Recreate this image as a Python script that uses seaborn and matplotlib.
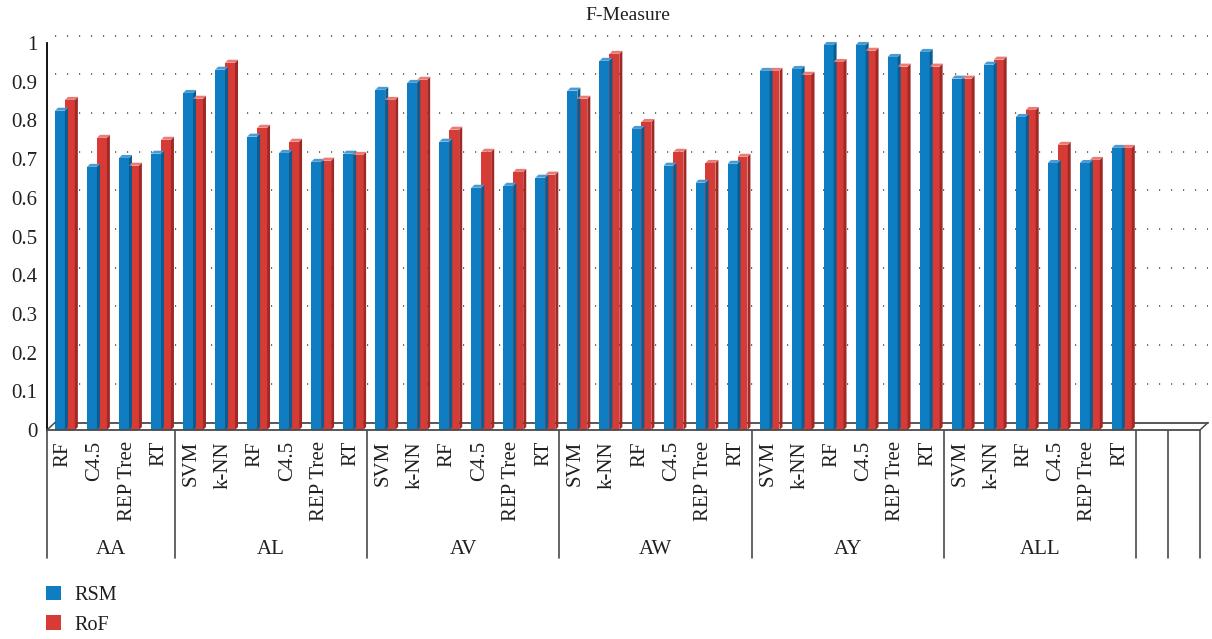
import numpy as np
import pandas as pd
import matplotlib
matplotlib.use("Agg")
import matplotlib.pyplot as plt
import seaborn as sns
from matplotlib.patches import Polygon, Patch

# ---------------- data ----------------
groups = ["AA", "AL", "AV", "AW", "AY", "ALL"]
group_methods = [
    ["RF", "C4.5", "REP Tree", "RT"],
    ["SVM", "k-NN", "RF", "C4.5", "REP Tree", "RT"],
    ["SVM", "k-NN", "RF", "C4.5", "REP Tree", "RT"],
    ["SVM", "k-NN", "RF", "C4.5", "REP Tree", "RT"],
    ["SVM", "k-NN", "RF", "C4.5", "REP Tree", "RT"],
    ["SVM", "k-NN", "RF", "C4.5", "REP Tree", "RT"],
]
rsm = [
    0.825, 0.680, 0.703, 0.714,
    0.871, 0.931, 0.758, 0.716, 0.693, 0.714,
    0.879, 0.897, 0.745, 0.626, 0.631, 0.652,
    0.877, 0.954, 0.778, 0.683, 0.639, 0.688,
    0.928, 0.933, 0.995, 0.995, 0.964, 0.977,
    0.908, 0.944, 0.809, 0.690, 0.690, 0.729,
]
rof = [
    0.853, 0.755, 0.683, 0.750,
    0.856, 0.949, 0.781, 0.745, 0.696, 0.711,
    0.853, 0.905, 0.776, 0.719, 0.667, 0.660,
    0.856, 0.972, 0.796, 0.719, 0.690, 0.706,
    0.928, 0.918, 0.951, 0.980, 0.939, 0.939,
    0.908, 0.957, 0.827, 0.737, 0.698, 0.729,
]
series = ["RSM", "RoF"]
n_blank = 2
yticks = [0, 0.1, 0.2, 0.3, 0.4, 0.5, 0.6, 0.7, 0.8, 0.9, 1.0]
ytick_labels = ["0", "0.1", "0.2", "0.3", "0.4", "0.5", "0.6", "0.7", "0.8", "0.9", "1"]

blue = "#0E7DC2"
red = "#D63B36"
blue_side, blue_top = "#0A5C91", "#4A9BD2"
red_side, red_top = "#A02825", "#E77C78"
txt = "#231F20"
line_c = "#4A4A4A"

# ---------------- table ----------------
keys, methods_flat, grp_flat = [], [], []
for g, ms in zip(groups, group_methods):
    for m in ms:
        keys.append(f"{g}|{m}")
        methods_flat.append(m)
        grp_flat.append(g)
blank_keys = [f"_blank{i}" for i in range(n_blank)]
order = keys + blank_keys
df = pd.DataFrame({
    "key": keys * 2,
    "model": ["RSM"] * len(keys) + ["RoF"] * len(keys),
    "value": rsm + rof,
})

# ---------------- figure ----------------
sns.set_theme(style="white")
plt.rcParams["font.family"] = ["Liberation Serif", "DejaVu Serif"]
W, H, DPI = 1212, 639, 100
fig = plt.figure(figsize=(W / DPI, H / DPI), dpi=DPI)
left, right, bottom, top = 47 / W, 1200 / W, 1 - 430 / H, 1 - 43 / H
ax = fig.add_axes([left, bottom, right - left, top - bottom])

sns.barplot(data=df, x="key", y="value", hue="model", order=order,
            hue_order=series, palette=[blue, red], width=0.62,
            saturation=1, linewidth=0, edgecolor="none", ax=ax, legend=False,
            zorder=3)

nslots = len(order)
ax.set_xlim(-0.5, nslots - 0.5)
ax.set_ylim(0, 1)

px_x = (right - left) * W / nslots   # pixels per slot
px_y = (top - bottom) * H            # pixels per unit value

# shift bars slightly right & add 3D faces
d3x, d3y = 3 / px_x, 3 / px_y
for cont, sc, tc in zip(ax.containers, [blue_side, red_side], [blue_top, red_top]):
    for bar in cont:
        bar.set_x(bar.get_x() + 0.06)
        x0, w, h = bar.get_x(), bar.get_width(), bar.get_height()
        if not np.isfinite(h) or h == 0:
            continue
        x1 = x0 + w
        ax.add_patch(Polygon([(x1, 0), (x1, h), (x1 + d3x, h + d3y), (x1 + d3x, d3y)],
                             closed=True, fc=sc, ec="none", zorder=3, clip_on=False))
        ax.add_patch(Polygon([(x0, h), (x1, h), (x1 + d3x, h + d3y), (x0 + d3x, h + d3y)],
                             closed=True, fc=tc, ec="none", zorder=3, clip_on=False))

# back-wall dotted gridlines and floor
bx, by = 8 / px_x, 7.5 / px_y
for v in yticks[1:]:
    ax.plot([-0.5 + bx, nslots - 0.5 + bx], [v + by, v + by], color="#555555",
            lw=1.2, linestyle=(0, (0.7, 6.5)), zorder=1, clip_on=False)
ax.plot([-0.5, nslots - 0.5], [0, 0], color=line_c, lw=1.3, zorder=4, clip_on=False)
ax.plot([-0.5 + bx, nslots - 0.5 + bx], [by, by], color=line_c, lw=1.3, zorder=1, clip_on=False)
ax.plot([-0.5, -0.5 + bx], [0, by], color=line_c, lw=1.1, zorder=4, clip_on=False)
ax.plot([nslots - 0.5, nslots - 0.5 + bx], [0, by], color=line_c, lw=1.1, zorder=4, clip_on=False)

# spines
for s in ["top", "right", "bottom"]:
    ax.spines[s].set_visible(False)
ax.spines["left"].set_color("black")
ax.spines["left"].set_linewidth(1.3)
ax.grid(False)

# y ticks
ax.set_yticks(yticks)
ax.set_yticklabels(ytick_labels)
ax.tick_params(axis="y", length=0, pad=7, labelsize=15, labelcolor=txt)

# x ticks: method names
ax.set_xticks(range(len(keys)))
ax.set_xticklabels(methods_flat, rotation=90, ha="center", va="top")
ax.tick_params(axis="x", length=0, pad=8, labelsize=15, labelcolor=txt)
ax.set_xlabel("")
ax.set_ylabel("")

# group separators and labels
trans = ax.get_xaxis_transform()
bounds = [-0.5]
for ms in group_methods:
    bounds.append(bounds[-1] + len(ms))
for i in range(n_blank):
    bounds.append(bounds[-1] + 1)
for b in bounds:
    ax.plot([b, b], [-0.003, -0.33], color=line_c, lw=1.2, transform=trans, clip_on=False)
for g, a, b in zip(groups, bounds[:-1], bounds[1:]):
    ax.text((a + b) / 2, -0.31, g, transform=trans, ha="center", va="center",
            fontsize=15, color=txt)

# title
fig.text(628 / W, 1 - 15 / H, "F-Measure", ha="center", va="center", fontsize=14, color=txt)

# legend
handles = [Patch(fc=blue, ec="none"), Patch(fc=red, ec="none")]
fig.legend(handles, series, loc="upper left", bbox_to_anchor=(40 / W, 1 - 580 / H),
           frameon=False, fontsize=14.5, handlelength=0.72, handleheight=0.72,
           handletextpad=0.7, labelspacing=0.5, borderaxespad=0, borderpad=0.3,
           labelcolor=txt)

fig.savefig("out.png", dpi=DPI)
